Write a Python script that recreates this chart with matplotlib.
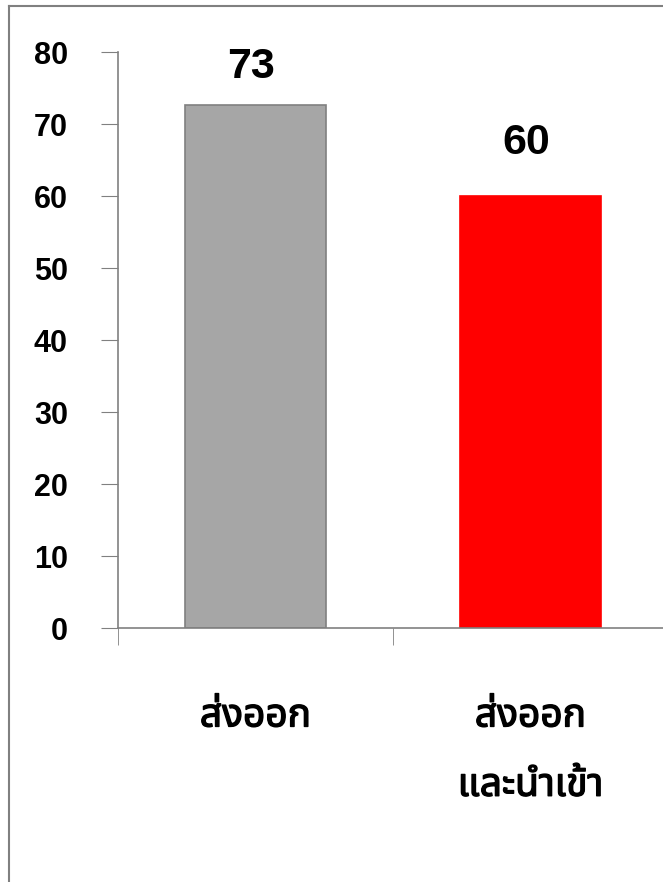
import matplotlib.pyplot as plt
import matplotlib.patheffects as pe
from matplotlib.lines import Line2D

categories = ['ส่งออก', 'ส่งออก\nและนำเข้า']
values = [72.6, 60.0]
labels = ['73', '60']
bar_colors = ['#a6a6a6', '#ff0000']
edge_colors = ['#808080', '#ff0000']
yticks = [0, 10, 20, 30, 40, 50, 60, 70, 80]

plt.rcParams['font.family'] = ['Noto Sans Thai', 'Loma', 'Garuda', 'Liberation Sans', 'DejaVu Sans']
num_font = ['Liberation Sans', 'DejaVu Sans']

fig = plt.figure(figsize=(6.63, 8.82), dpi=100)
ax = fig.add_axes([118 / 663, 254 / 882, 550 / 663, 576 / 882])

x = list(range(len(categories)))
ax.bar(x, values, width=0.51, color=bar_colors, edgecolor=edge_colors, linewidth=1.2)
label_offsets = [5.3, 7.4]
for xi, v, t, off in zip(x, values, labels, label_offsets):
    ax.text(xi - 0.015, v + off, t, ha='center', va='center', fontsize=31,
            fontweight='bold', family=num_font)

ax.set_xlim(-0.5, 1.5)
ax.set_ylim(0, 80)
ax.set_yticks(yticks)
ax.set_yticklabels([str(t) for t in yticks], fontsize=22, fontweight='bold', family=num_font)
ax.set_xticks(x)
ax.set_xticklabels(categories, fontsize=28, fontweight='bold', linespacing=2.08)
for lab in ax.get_xticklabels():
    lab.set_path_effects([pe.withStroke(linewidth=1.0, foreground='black')])
ax.set_xticks([-0.5, 0.5, 1.5], minor=True)
ax.tick_params(axis='x', which='major', length=0, pad=50)
ax.tick_params(axis='x', which='minor', length=12, color='#808080', direction='out')
ax.tick_params(axis='y', length=12, color='#808080', direction='out', pad=24)

for s in ['top', 'right']:
    ax.spines[s].set_visible(False)
for s in ['left', 'bottom']:
    ax.spines[s].set_color('#808080')
    ax.spines[s].set_linewidth(1.2)

# outer chart frame (left and top edges only visible)
fig.add_artist(Line2D([9 / 663, 9 / 663], [0, 876 / 882], color='#808080', lw=1.5))
fig.add_artist(Line2D([9 / 663, 1], [876 / 882, 876 / 882], color='#808080', lw=1.5))

fig.savefig('out.png', dpi=100)
